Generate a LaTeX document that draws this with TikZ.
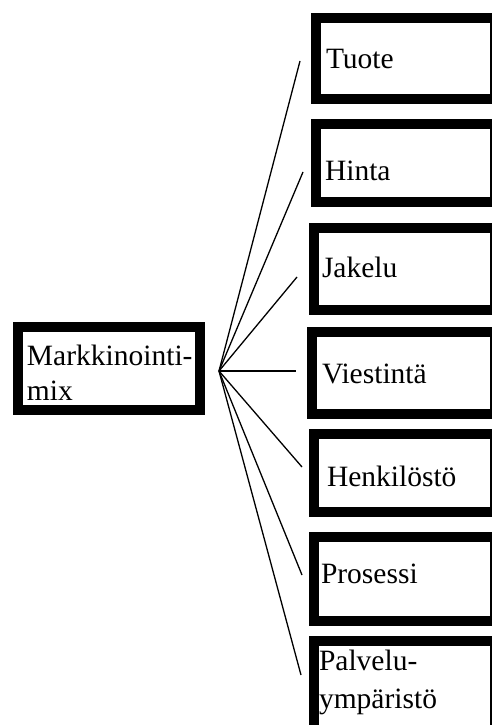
\documentclass[tikz,border=0pt]{standalone}
\usepackage{fontspec}
\setmainfont{Liberation Serif}
\begin{document}
\begin{tikzpicture}[x=1pt,y=-1pt,
  frame/.style={draw=black, line width=10pt, fill=white, inner sep=0pt, outer sep=0pt},
  lbl/.style={anchor=base west, inner sep=0pt, outer sep=0pt, text=black, font=\fontsize{29.5}{35}\selectfont},
  link/.style={draw=black, line width=1.3pt}]
\useasboundingbox (0,0) rectangle (492,725);
\clip (0,0) rectangle (492,725);
% boxes
\node[frame, minimum width=182pt, minimum height=83pt] (mix) at (109,368.5) {};
\node[frame, minimum width=179pt, minimum height=81pt] (tuote) at (405.5,58.5) {};
\node[frame, minimum width=179pt, minimum height=78pt] (hinta) at (405.5,163) {};
\node[frame, minimum width=181pt, minimum height=82pt] (jakelu) at (404.5,269) {};
\node[frame, minimum width=183pt, minimum height=82pt] (viestinta) at (403.5,373) {};
\node[frame, minimum width=181pt, minimum height=78pt] (henkilosto) at (404.5,473) {};
\node[frame, minimum width=181pt, minimum height=84pt] (prosessi) at (404.5,579) {};
\node[frame, minimum width=181pt, minimum height=100pt] (palvelu) at (404.5,691) {};
% texts
\node[lbl] (tmix1) at (27,365) {Markkinointi-};
\node[lbl] (tmix2) at (27,400) {mix};
\node[lbl] (ttuote) at (326,68) {Tuote};
\node[lbl] (thinta) at (325,180) {Hinta};
\node[lbl] (tjakelu) at (322,277) {Jakelu};
\node[lbl] (tviestinta) at (322,383) {Viestintä};
\node[lbl] (thenkilosto) at (327,486) {Henkilöstö};
\node[lbl] (tprosessi) at (321,583) {Prosessi};
\node[lbl] (tpalvelu1) at (319,670) {Palvelu-};
\node[lbl] (tpalvelu2) at (319,708) {ympäristö};
% connectors
\coordinate (hub) at (219,371);
\coordinate (etuote) at (300,61);
\coordinate (ehinta) at (303,172);
\coordinate (ejakelu) at (297,277);
\coordinate (eviestinta) at (296,371);
\coordinate (ehenkilosto) at (302,467);
\coordinate (eprosessi) at (302,575);
\coordinate (epalvelu) at (301,675);
\draw[link] (hub) -- (etuote);
\draw[link] (hub) -- (ehinta);
\draw[link] (hub) -- (ejakelu);
\draw[link] (hub) -- (eviestinta);
\draw[link] (hub) -- (ehenkilosto);
\draw[link] (hub) -- (eprosessi);
\draw[link] (hub) -- (epalvelu);
\end{tikzpicture}
\end{document}
